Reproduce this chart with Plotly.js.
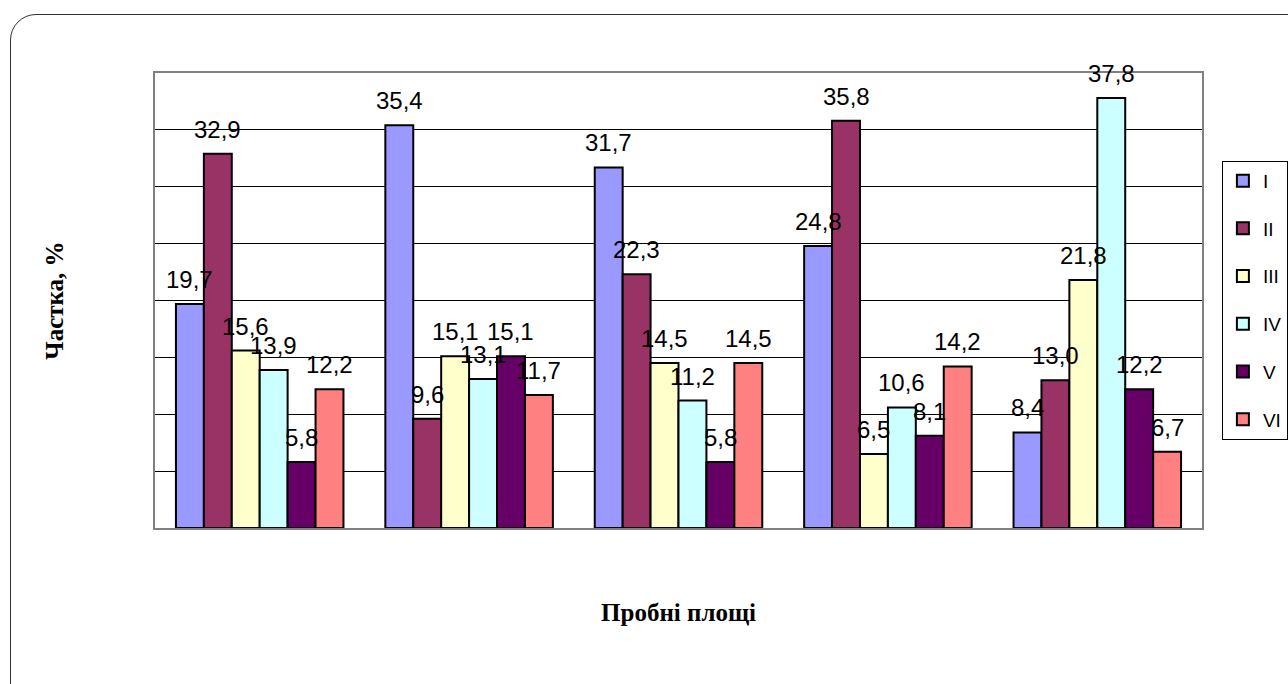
<!DOCTYPE html>
<html>
<head>
<meta charset="utf-8">
<script src="https://cdn.plot.ly/plotly-3.0.1.min.js"></script>
<style>
  html, body { margin: 0; padding: 0; width: 1288px; height: 684px; overflow: hidden; background: #fff; }
  #frame { position: absolute; left: 10px; top: 14px; width: 1320px; height: 720px;
           border: 1.5px solid #333; border-radius: 26px; box-sizing: border-box; pointer-events: none; z-index: 2; }
  #chart { position: absolute; left: 0; top: 0; width: 1288px; height: 684px; }
</style>
</head>
<body>
<div id="chart"></div>
<div id="frame"></div>
<script>
const categories = ['1', '2', '3', '4', '5'];
const seriesNames = ['I', 'II', 'III', 'IV', 'V', 'VI'];
const seriesColors = ['#9999FF', '#993366', '#FFFFCC', '#CCFFFF', '#660066', '#FF8080'];
const valuesI   = [19.7, 35.4, 31.7, 24.8, 8.4];
const valuesII  = [32.9, 9.6, 22.3, 35.8, 13.0];
const valuesIII = [15.6, 15.1, 14.5, 6.5, 21.8];
const valuesIV  = [13.9, 13.1, 11.2, 10.6, 37.8];
const valuesV   = [5.8, 15.1, 5.8, 8.1, 12.2];
const valuesVI  = [12.2, 11.7, 14.5, 14.2, 6.7];
const allValues = [valuesI, valuesII, valuesIII, valuesIV, valuesV, valuesVI];

const bargap = 0.2;
const nSeries = seriesNames.length;
const fmt = v => v.toFixed(1).replace('.', ',');

const traces = allValues.map((vals, k) => ({
  type: 'bar',
  name: seriesNames[k],
  x: categories,
  y: vals,
  legendgroup: 'g' + k,
  marker: { color: seriesColors[k], line: { color: '#000', width: 2 } },
  hoverinfo: 'none'
}));

const barW = (1 - bargap) / nSeries;
const annotations = [];
allValues.forEach((vals, k) => {
  vals.forEach((v, i) => {
    annotations.push({
      x: i + (k - (nSeries - 1) / 2) * barW,
      y: v,
      xref: 'x', yref: 'y',
      text: fmt(v),
      showarrow: false,
      yanchor: 'bottom',
      xanchor: 'center',
      yshift: 9,
      font: { family: 'Liberation Sans, Arial, sans-serif', size: 24, color: '#000' }
    });
  });
});

const layout = {
  width: 1288, height: 684,
  margin: { l: 155, r: 86, t: 73, b: 156, autoexpand: false },
  paper_bgcolor: '#fff', plot_bgcolor: '#fff',
  barmode: 'group', bargap: bargap, bargroupgap: 0,
  showlegend: true,
  legend: {
    x: 1.019, xanchor: 'left', y: 0.807, yanchor: 'top',
    bordercolor: '#000', borderwidth: 1, bgcolor: '#fff',
    traceorder: 'grouped', tracegroupgap: 20,
    font: { family: 'Liberation Sans, Arial, sans-serif', size: 19, color: '#000' },
    itemclick: false, itemdoubleclick: false
  },
  xaxis: {
    type: 'category', showticklabels: false, ticks: '', showgrid: false, zeroline: false,
    showline: true, mirror: true, linecolor: '#808080', linewidth: 2,
    title: { text: 'Пробні площі', standoff: 74,
             font: { family: 'Liberation Serif, Times New Roman, serif', size: 25, color: '#000', weight: 'bold' } }
  },
  yaxis: {
    range: [0, 40], dtick: 5, tick0: 0, showticklabels: false, ticks: '',
    showgrid: true, gridcolor: '#000', gridwidth: 1, zeroline: false,
    showline: true, mirror: true, linecolor: '#808080', linewidth: 2,
    title: { text: 'Частка, %', standoff: 82,
             font: { family: 'Liberation Serif, Times New Roman, serif', size: 25, color: '#000', weight: 'bold' } }
  },
  annotations: annotations,
  font: { family: 'Liberation Sans, Arial, sans-serif', color: '#000' }
};

Plotly.newPlot('chart', traces, layout, { staticPlot: true, displayModeBar: false });
</script>
</body>
</html>
